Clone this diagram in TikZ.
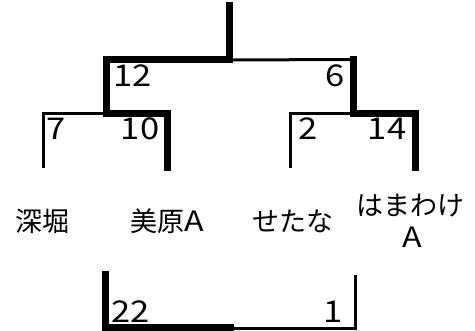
\documentclass[tikz,border=0pt]{standalone}
\usepackage{fontspec}
\setmainfont{Noto Sans CJK JP}
\newfontfamily\digfont[FakeStretch=1.15]{Noto Sans CJK JP}
\begin{document}
\begin{tikzpicture}[x=1pt,y=1pt,
  win/.style={line width=7pt,line cap=rect},
  lose/.style={line width=3pt},
  num/.style={inner sep=0pt,anchor=base,font=\digfont\fontsize{30}{32}\selectfont},
  team/.style={inner sep=0pt,anchor=center,align=center,font=\fontsize{27}{30}\selectfont}]
\useasboundingbox (0,0) rectangle (475,331);
% coordinates (y measured from bottom: y' = 331 - y)
\coordinate (top) at (229,325);
\coordinate (tm) at (229,271);
\coordinate (tl) at (106,271);
\coordinate (tr) at (353,271);
\coordinate (tr2) at (353,271.5);
\coordinate (ll) at (106,217.5);
\coordinate (rl) at (353,217.5);
\coordinate (a1) at (43,217.5);
\coordinate (a2) at (167,217.5);
\coordinate (b1) at (290,217.5);
\coordinate (b2) at (415,217.5);
\coordinate (a1b) at (43,163);
\coordinate (a2b) at (167,163);
\coordinate (b1b) at (290,163);
\coordinate (b2b) at (415,163);
\coordinate (c1) at (105.5,56);
\coordinate (c1b) at (105.5,3);
\coordinate (cm) at (230,3);
\coordinate (cmt) at (230,2);
\coordinate (c2b) at (355,2);
\coordinate (c2) at (355,56);
% top bracket
\draw[lose] (tm) -- (tr2);
\draw[win] (top) -- (tm) -- (tl) -- (ll);
\draw[win] (tr) -- (rl);
% lower-left bracket
\draw[lose] (a1b) -- (a1) -- (ll);
\draw[win] (ll) -- (a2) -- (a2b);
% lower-right bracket
\draw[lose] (b1b) -- (b1) -- (rl);
\draw[win] (rl) -- (b2) -- (b2b);
% bottom bracket
\draw[lose] (cmt) -- (c2b) -- (c2);
\draw[win] (c1) -- (c1b) -- (cm);
% scores
\node[num] (s12) at (132.5,244) {12};
\node[num] (s6) at (335,244) {6};
\node[num] (s7) at (56,191) {7};
\node[num] (s10) at (140,191) {10};
\node[num] (s2) at (308,191) {2};
\node[num] (s14) at (387,191) {14};
\node[num] (s22) at (131,8) {22};
\node[num] (s1) at (333,8) {1};
% teams
\node[team] (t1) at (42.5,109.5) {深堀};
\node[team] (t2) at (167,109.5) {美原{\digfont\fontsize{28}{30}\selectfont A}};
\node[team] (t3) at (292.5,109.5) {せたな};
\node[team] (t4) at (410,125) {はまわけ};
\node[team] (t5) at (412.5,94) {\digfont\fontsize{28}{30}\selectfont A};
\end{tikzpicture}
\end{document}
